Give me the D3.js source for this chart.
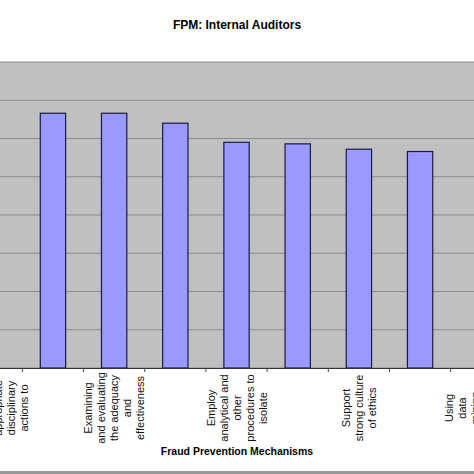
<!DOCTYPE html>
<html><head><meta charset="utf-8">
<script src="https://cdn.jsdelivr.net/npm/d3@7"></script>
<style>body{margin:0;background:#fff}text{font-family:Arial,"Liberation Sans",sans-serif}</style>
</head><body><svg id="c" width="474" height="474"></svg>
<script>
const categories = ["c0","c1","c2","c3","c4","c5","c6","c7","c8"];
const values = [null, 3.33, 3.33, 3.2, 2.95, 2.93, 2.86, 2.83, null];
const labels = [
  ["Take","corrective","and","appropriate","disciplinary","actions to"],
  [],
  ["Examining","and evaluating","the adequacy","and","effectiveness"],
  [],
  ["Employ","analytical and","other","procedures to","isolate"],
  [],
  ["Support","strong culture","of ethics"],
  [],
  ["Using","data","mining","and","other","tools"]
];
const yTicks = [0,0.5,1,1.5,2,2.5,3,3.5,4];

const svg = d3.select("#c");
const plotTop = 62, plotBottom = 368;
const x = d3.scaleBand().domain(categories).range([-56.75, 529.8]).padding(0.586);
const y = d3.scaleLinear().domain([0,4]).range([plotBottom, plotTop]);

svg.append("rect").attr("x",0).attr("y",plotTop).attr("width",474).attr("height",plotBottom-plotTop).attr("fill","#c0c0c0");
svg.selectAll(".g").data(yTicks).join("line")
  .attr("x1",0).attr("x2",474).attr("y1",d=>y(d)).attr("y2",d=>y(d))
  .attr("stroke","#8a8a8a").attr("stroke-width",1);

svg.selectAll(".bar").data(categories.map((c,i)=>({c,v:values[i]})).filter(d=>d.v!=null)).join("rect")
  .attr("x",d=>x(d.c)).attr("width",x.bandwidth())
  .attr("y",d=>y(d.v)).attr("height",d=>y(0)-y(d.v))
  .attr("fill","#9999ff").attr("stroke","#1a1a40").attr("stroke-width",1.2);

const step = x.step();
const ax = svg.append("g").attr("transform",`translate(0,${plotBottom})`)
  .call(d3.axisBottom(x).tickSize(0).tickFormat(""));
ax.select(".domain").attr("stroke","#333");
categories.forEach((c,i)=>{
  const tx = x(c) - x.paddingInner()*step/2;
  svg.append("line").attr("x1",tx).attr("x2",tx).attr("y1",plotBottom).attr("y2",plotBottom+4).attr("stroke","#444");
});
categories.forEach((c,i)=>{
  const lines = labels[i], n = lines.length, cx = x(c)+x.bandwidth()/2;
  lines.forEach((t,j)=>{
    const lx = cx + (j-(n-1)/2)*13 + 4;
    svg.append("text").attr("transform",`translate(${lx},408) rotate(-90)`)
      .attr("text-anchor","middle").attr("font-size",11).attr("fill","#111").text(t);
  });
});

svg.append("text").attr("x",237).attr("y",29).attr("text-anchor","middle")
  .attr("font-size",12).attr("font-weight","bold").text("FPM: Internal Auditors");
svg.append("text").attr("x",237).attr("y",455).attr("text-anchor","middle")
  .attr("font-size",10.5).attr("font-weight","bold").text("Fraud Prevention Mechanisms");
svg.append("rect").attr("x",0).attr("y",471).attr("width",474).attr("height",3).attr("fill","#999");
</script></body></html>
